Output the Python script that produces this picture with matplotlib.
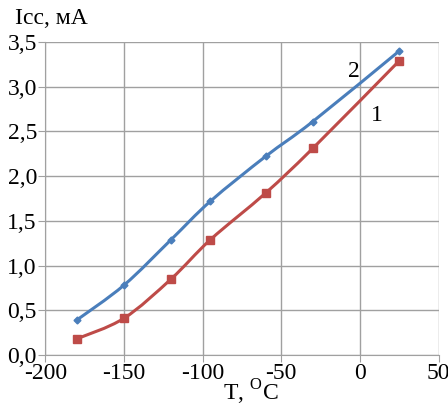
import matplotlib
matplotlib.use("Agg")
import matplotlib.pyplot as plt
import numpy as np
from matplotlib.path import Path
from matplotlib.patches import PathPatch
from matplotlib.ticker import FuncFormatter

plt.rcParams['font.family'] = ['Liberation Serif', 'DejaVu Serif']
plt.rcParams['mathtext.fontset'] = 'custom'
plt.rcParams['mathtext.rm'] = 'Liberation Serif'

T1 = [-180, -150, -120, -95, -60, -30, 25]
I1 = [0.18, 0.41, 0.85, 1.29, 1.81, 2.31, 3.29]
T2 = [-180, -150, -120, -95, -60, -30, 25]
I2 = [0.39, 0.78, 1.29, 1.72, 2.22, 2.61, 3.40]
xticks = [-200, -150, -100, -50, 0, 50]
yticks = [0.0, 0.5, 1.0, 1.5, 2.0, 2.5, 3.0, 3.5]


def smooth_path(x, y):
    p = np.column_stack([x, y]).astype(float)
    n = len(p)
    verts = [p[0]]
    codes = [Path.MOVETO]
    for i in range(n - 1):
        p0 = p[i - 1] if i > 0 else p[i]
        p1, p2 = p[i], p[i + 1]
        p3 = p[i + 2] if i + 2 < n else p[i + 1]
        c1 = p1 + (p2 - p0) / 6.0
        c2 = p2 - (p3 - p1) / 6.0
        verts += [c1, c2, p2]
        codes += [Path.CURVE4] * 3
    return Path(verts, codes)


fig = plt.figure(figsize=(4.48, 4.08), dpi=100)
ax = fig.add_axes([0.101, 0.130, 0.878, 0.767])
for T, I, c, m, ms in [(T1, I1, '#be4b48', 's', 5.5), (T2, I2, '#4a7ebb', 'D', 3.5)]:
    ax.add_patch(PathPatch(smooth_path(T, I), fc='none', ec=c, lw=2.2, zorder=3))
    ax.plot(T, I, ls='none', color=c, marker=m, ms=ms, zorder=4)
ax.set_xlim(-200, 50)
ax.set_ylim(0, 3.5)
ax.set_xticks(xticks)
ax.set_yticks(yticks)
ax.yaxis.set_major_formatter(FuncFormatter(lambda v, p: f"{v:.1f}".replace('.', ',')))
ax.xaxis.set_major_formatter(FuncFormatter(lambda v, p: f"{int(v)}"))
ax.grid(True, color='#a0a0a0', lw=1)
ax.set_axisbelow(True)
for s in ['top', 'right']:
    ax.spines[s].set_visible(False)
for s in ['left', 'bottom']:
    ax.spines[s].set_color('#a0a0a0')
ax.tick_params(length=5, color='#a0a0a0', labelsize=17, pad=1)
ax.annotate('2', xy=(-4, 3.17), fontsize=17, ha='center', va='center')
ax.annotate('1', xy=(11, 2.68), fontsize=17, ha='center', va='center')
fig.text(0.033, 0.955, 'Icc, мА', fontsize=17, ha='left', va='center')
fig.text(0.56, 0.038, 'T, $^{\\mathrm{O}}$C', fontsize=17, ha='center', va='center')
fig.savefig('out.png', dpi=100)
